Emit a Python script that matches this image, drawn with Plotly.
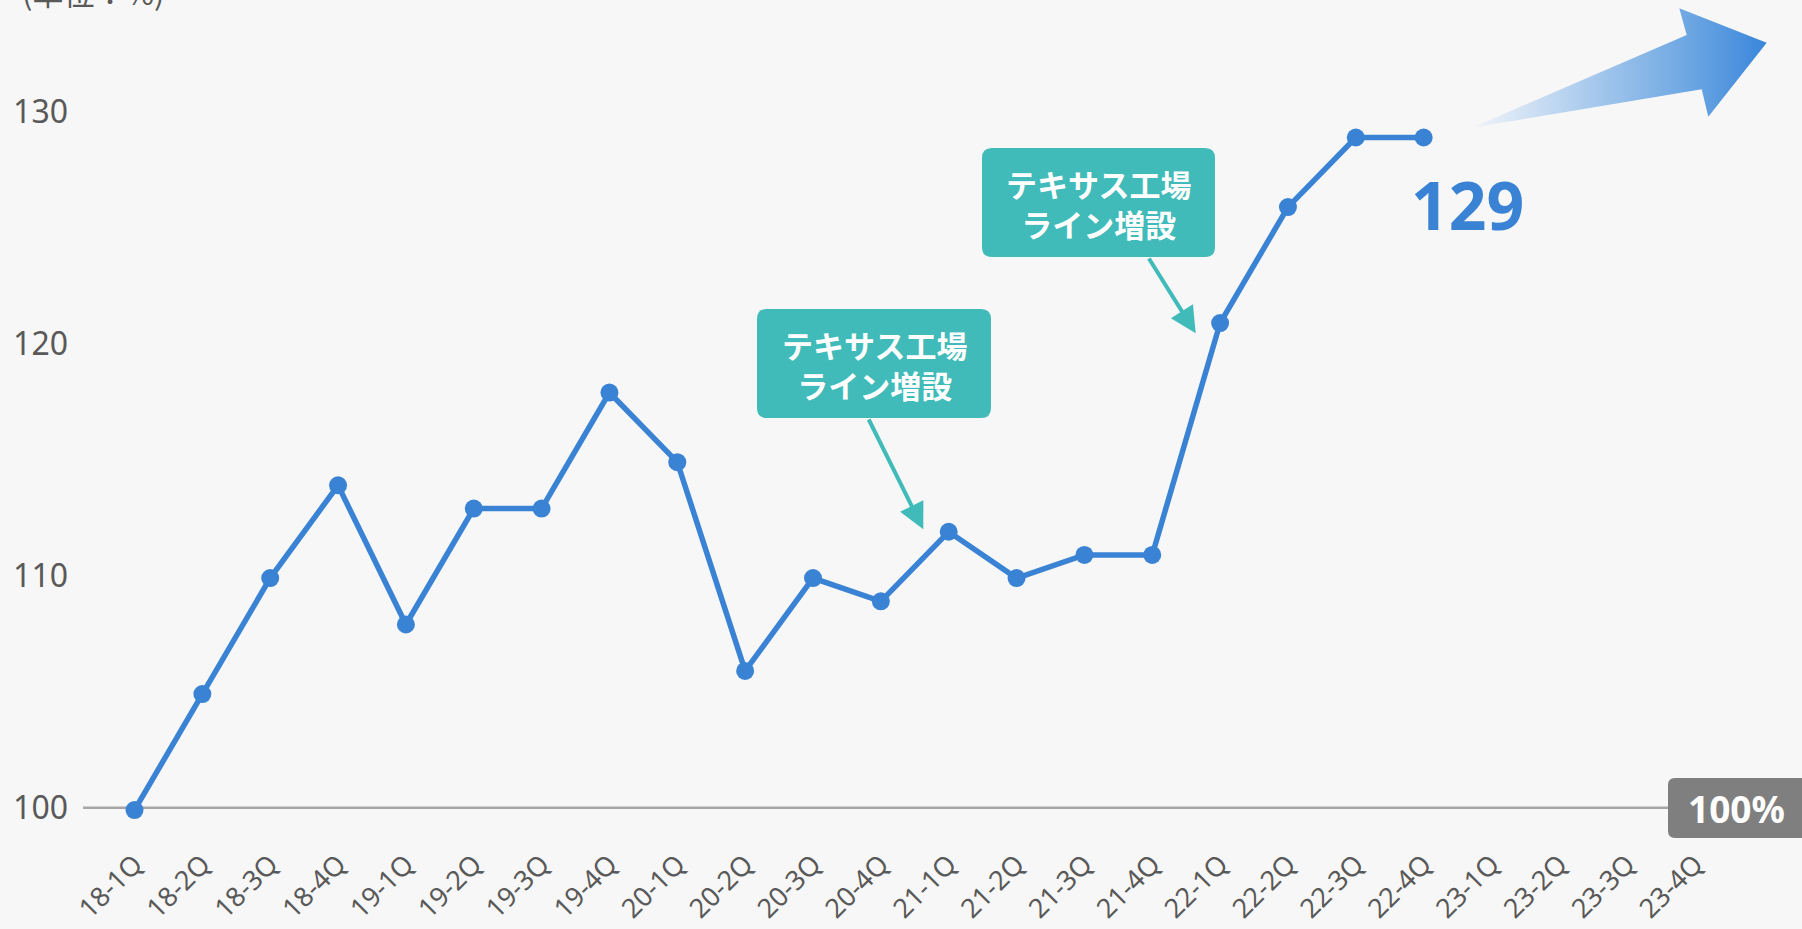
import plotly.graph_objects as go

# ---------------- data ----------------
quarters = ["18-1Q", "18-2Q", "18-3Q", "18-4Q", "19-1Q", "19-2Q", "19-3Q", "19-4Q",
            "20-1Q", "20-2Q", "20-3Q", "20-4Q", "21-1Q", "21-2Q", "21-3Q", "21-4Q",
            "22-1Q", "22-2Q", "22-3Q", "22-4Q", "23-1Q", "23-2Q", "23-3Q", "23-4Q"]
index_values = [99.9, 104.9, 109.9, 113.9, 107.9, 112.9, 112.9, 117.9,
                114.9, 105.9, 109.9, 108.9, 111.9, 109.9, 110.9, 110.9,
                120.9, 125.9, 128.9, 128.9]
y_ticks = [100, 110, 120, 130]
base_value = 100
latest_label = "129"
callout_text = "テキサス工場<br>ライン増設"
unit_label = "(単位：%)"
badge_label = "100%"

# ---------------- layout geometry ----------------
W, H = 1802, 929
ML, MR, MT, MB = 83, 0, 0, 99
X0PX, DXPX = 134.5, 67.85      # pixel of first category, pixel step
Y100PX, DYPX = 807.7, 23.19    # pixel of value 100, pixels per unit
PW, PH = W - ML - MR, H - MT - MB


def dx(p):
    return (p - X0PX) / DXPX


def dy(p):
    return base_value + (Y100PX - p) / DYPX


def px_paper(p):
    return (p - ML) / PW


def py_paper(p):
    return 1 - (p - MT) / PH


x_range = [dx(ML), dx(W - MR)]
y_range = [dy(H - MB), dy(MT)]

BLUE = "#3A83D4"
TEAL = "#40BBB9"
GREY_TXT = "#595959"
BG = "#F7F7F7"
JP = "Noto Sans CJK JP"
NUM = "Noto Sans"


def rounded_rect(x0, y0, x1, y1, r, fx, fy):
    pts = [
        ("M", [(x0 + r, y0)]),
        ("L", [(x1 - r, y0)]),
        ("Q", [(x1, y0), (x1, y0 + r)]),
        ("L", [(x1, y1 - r)]),
        ("Q", [(x1, y1), (x1 - r, y1)]),
        ("L", [(x0 + r, y1)]),
        ("Q", [(x0, y1), (x0, y1 - r)]),
        ("L", [(x0, y0 + r)]),
        ("Q", [(x0, y0), (x0 + r, y0)]),
    ]
    s = ""
    for cmd, ps in pts:
        s += cmd + " ".join(f"{fx(px):.6f},{fy(py):.6f}" for px, py in ps) + " "
    return s + "Z"


fig = go.Figure()

# big gradient trend arrow (decoration)
arrow_px = [(1471.7, 127.7), (1686.7, 35.0), (1679.3, 8.3), (1766.7, 42.7),
            (1708.3, 116.7), (1701.7, 89.3), (1471.7, 127.7)]
fig.add_trace(go.Scatter(
    x=[dx(p[0]) for p in arrow_px], y=[dy(p[1]) for p in arrow_px],
    mode="lines", line=dict(width=0), fill="toself",
    fillgradient=dict(type="horizontal",
                      colorscale=[[0, "#F2F5F9"], [0.4, "#A9CAED"],
                                  [0.75, "#6AA5E2"], [1, "#3A86DB"]]),
    hoverinfo="skip", showlegend=False,
))

# main line
fig.add_trace(go.Scatter(
    x=list(range(len(index_values))), y=index_values,
    mode="lines+markers",
    line=dict(color=BLUE, width=5.5),
    marker=dict(color=BLUE, size=18),
    showlegend=False, cliponaxis=False,
))

shapes = []
# baseline at 100
shapes.append(dict(type="line", xref="paper", yref="y", x0=0, x1=1,
                   y0=base_value, y1=base_value,
                   line=dict(color="#A6A6A6", width=2.5), layer="below"))
# 100% badge
shapes.append(dict(type="path", xref="paper", yref="paper",
                   path=rounded_rect(1668, 778, 1812, 838, 7, px_paper, py_paper),
                   fillcolor="#7F7F7F", line=dict(width=0), layer="above"))
# callout boxes
box1 = (757, 309, 991, 418)
box2 = (982, 148, 1215, 257)
for b in (box1, box2):
    shapes.append(dict(type="path", xref="paper", yref="paper",
                       path=rounded_rect(*b, 10, px_paper, py_paper),
                       fillcolor=TEAL, line=dict(width=0), layer="above"))

annotations = []
# callout texts
for b in (box1, box2):
    annotations.append(dict(
        x=px_paper((b[0] + b[2]) / 2), y=py_paper((b[1] + b[3]) / 2 + 1),
        xref="paper", yref="paper",
        text=callout_text, showarrow=False,
        font=dict(family=JP, size=31, color="white", weight="bold"),
        xanchor="center", yanchor="middle",
    ))
# callout arrows
for (sx, sy), (tx, ty) in [((868, 418), (923.3, 529.3)),
                           ((1148, 257), (1195.7, 333.3))]:
    annotations.append(dict(
        x=dx(tx), y=dy(ty), ax=dx(sx), ay=dy(sy),
        xref="x", yref="y", axref="x", ayref="y",
        text="", showarrow=True, arrowhead=2, arrowsize=1.3,
        arrowwidth=4, arrowcolor=TEAL, standoff=0, startstandoff=0,
    ))
# latest value label
annotations.append(dict(
    x=dx(1467), y=dy(204), xref="x", yref="y", text=latest_label,
    showarrow=False, xanchor="center", yanchor="middle",
    font=dict(family=NUM, size=66, color=BLUE, weight="bold"),
))
# badge text
annotations.append(dict(
    x=px_paper(1736), y=py_paper(808), xref="paper", yref="paper", text=badge_label,
    showarrow=False, xanchor="center", yanchor="middle",
    font=dict(family=NUM, size=37, color="white", weight="bold"),
))
# unit label (partly cut off at the top)
annotations.append(dict(
    x=px_paper(20), y=py_paper(-9),
    xref="paper", yref="paper", text=unit_label, showarrow=False,
    xanchor="left", yanchor="middle",
    font=dict(family=JP, size=31, color=GREY_TXT),
))

fig.update_layout(
    width=W, height=H,
    margin=dict(l=ML, r=MR, t=MT, b=MB, pad=0, autoexpand=False),
    paper_bgcolor=BG, plot_bgcolor=BG,
    shapes=shapes, annotations=annotations,
    xaxis=dict(range=x_range, tickmode="array",
               tickvals=list(range(len(quarters))), ticktext=quarters,
               tickangle=-45, tickfont=dict(family=NUM, size=27, color=GREY_TXT),
               showgrid=False, zeroline=False, showline=False, automargin=False,
               ticks="", ticklabelstandoff=12, fixedrange=True),
    yaxis=dict(range=y_range, tickmode="array", tickvals=y_ticks,
               tickfont=dict(family=NUM, size=32, color=GREY_TXT),
               showgrid=False, zeroline=False, showline=False, automargin=False,
               ticks="", ticklabelstandoff=14, fixedrange=True),
    showlegend=False,
)

fig.write_html(
    "out.html",
    config={"displayModeBar": False},
    post_script="document.body.style.margin='0';document.body.style.overflow='hidden';",
)
